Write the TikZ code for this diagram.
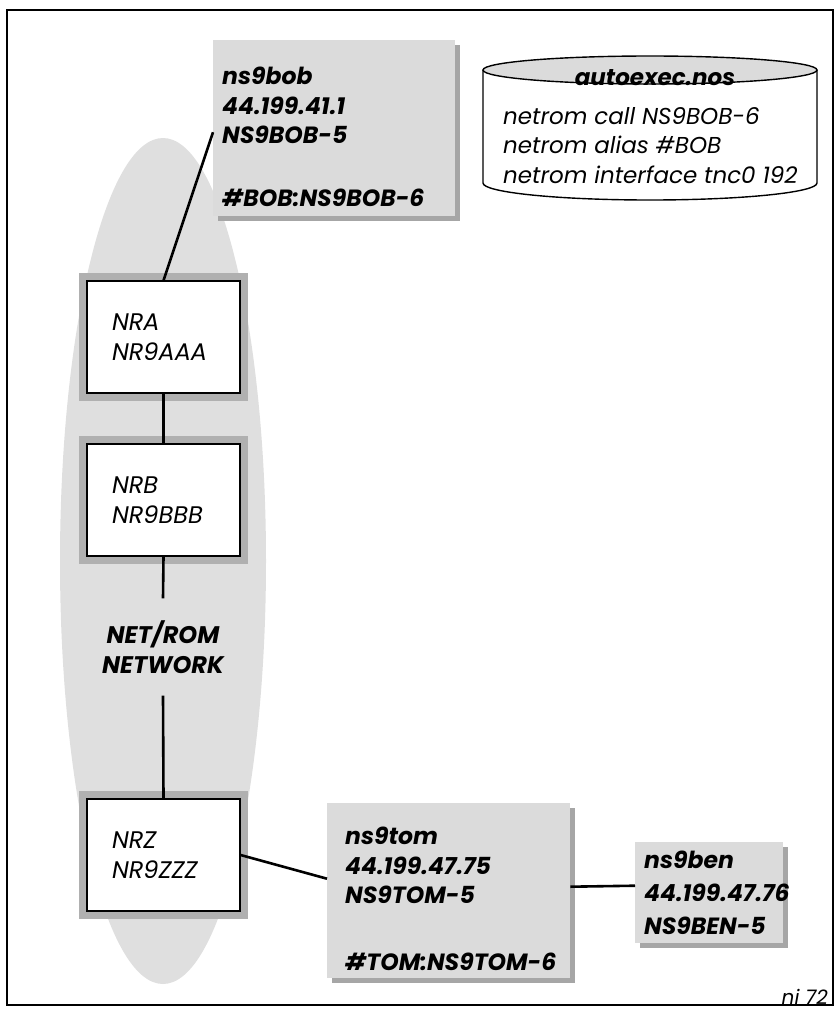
\documentclass[tikz,border=0pt]{standalone}
\usepackage{fontspec}
\setmainfont{Poppins}
\newfontfamily\pop{Poppins}
\usetikzlibrary{shadows,calc}
\begin{document}
\begin{tikzpicture}[x=1pt,y=-1pt,
  conn/.style={line width=2.6pt,black},
  hostbox/.style={fill=gray!28, draw=none, inner sep=0pt,
     drop shadow={shadow xshift=5pt, shadow yshift=-5pt, fill=gray!70, opacity=1}},
  hosttext/.style={anchor=north west, align=left, inner sep=0pt,
     font=\pop\bfseries\itshape\fontsize{23.5}{29.5}\selectfont},
  nrbox/.style={draw=black, line width=1.2pt, fill=white,
     preaction={draw=gray!62, line width=16pt},
     minimum width=153pt, minimum height=112pt, text width=103pt,
     inner xsep=25pt, align=left,
     font=\pop\itshape\fontsize{24}{30}\selectfont},
  cyltext/.style={anchor=north west, align=left, inner sep=0pt,
     font=\pop\itshape\fontsize{23}{29.5}\selectfont}
]
\useasboundingbox (0,0) rectangle (836,1012);
% frame
\draw[line width=1.5pt] (7,10) rectangle (833,1005);
% NET/ROM cloud
\fill[gray!25] (163,561) ellipse[x radius=103, y radius=423];

% host boxes
\node[hostbox, minimum width=242pt, minimum height=176pt, anchor=north west] (bob) at (213,40) {};
\node[hosttext] (bobtxt) at (222,67) {ns9bob\\44.199.41.1\\NS9BOB-5\\[33.5pt]\#BOB:NS9BOB-6};

\node[hostbox, minimum width=243pt, minimum height=175pt, anchor=north west] (tom) at (327,803) {};
\node[hosttext] (tomtxt) at (345,827) {ns9tom\\44.199.47.75\\NS9TOM-5\\[37.5pt]\#TOM:NS9TOM-6};

\node[hostbox, minimum width=148pt, minimum height=101pt, anchor=north west] (ben) at (635,842) {};
\node[hosttext, font=\pop\bfseries\itshape\fontsize{23.5}{33}\selectfont] (bentxt) at (644,851) {ns9ben\\44.199.47.76\\NS9BEN-5};

% NET/ROM nodes
\node[nrbox] (nra) at (163.5,337) {NRA\\NR9AAA};
\node[nrbox] (nrb) at (163.5,500) {NRB\\NR9BBB};
\node[nrbox] (nrz) at (163.5,855) {NRZ\\NR9ZZZ};
\node[align=center, inner xsep=0pt, inner ysep=22pt,
      font=\pop\bfseries\itshape\fontsize{24}{30}\selectfont] (net) at (163,647) {NET/ROM\\NETWORK};

% connectors
\draw[conn] ([yshift=-4pt]bob.west) -- (nra.north);
\draw[conn] (nra.south) -- (nrb.north);
\draw[conn] (nrb.south) -- (net.north);
\draw[conn] (net.south) -- (nrz.north);
\draw[conn] (nrz.east) -- ([yshift=12pt]tom.west);
\draw[conn] ([yshift=4pt]tom.east) -- ([yshift=7pt]ben.west);

% autoexec.nos cylinder
\draw[line width=1.4pt, fill=white] (483,70) -- (483,183)
   arc[start angle=180, end angle=0, x radius=167, y radius=17] -- (817,70);
\draw[line width=1.4pt, fill=gray!28] (650,70) ellipse[x radius=167, y radius=14];
\node[anchor=base, inner sep=0pt, font=\pop\bfseries\itshape\fontsize{23}{26}\selectfont] (title) at (655,85) {autoexec.nos};
\node[cyltext] (cmds) at (503,107) {netrom call NS9BOB-6\\netrom alias \#BOB\\netrom interface tnc0 192};

% figure id
\node[anchor=base east, inner sep=0pt, font=\pop\itshape\fontsize{20}{24}\selectfont] (figid) at (828,1004) {ni 72};
\end{tikzpicture}
\end{document}
